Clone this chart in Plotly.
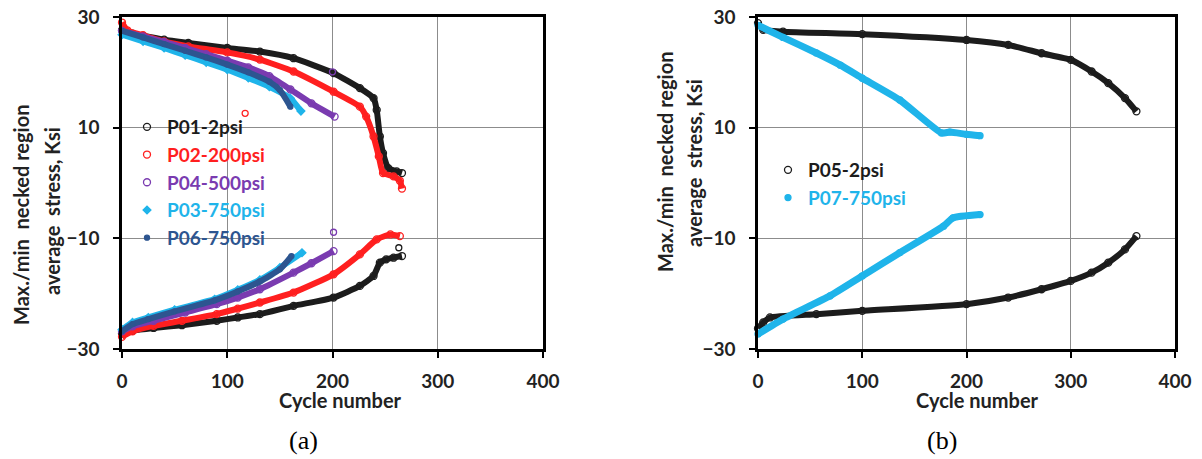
import plotly.graph_objects as go

# ---------------- data ----------------
# Panel (a)
p01_max_c = [0, 10, 20, 40, 63, 100, 131, 163, 201, 226, 239, 242, 245, 248, 253, 261, 266]
p01_max_v = [27.6, 27.0, 26.6, 25.9, 25.3, 24.4, 23.75, 22.55, 19.85, 17.15, 15.35, 13.2, 8.4, 5.4, 2.7, 2.1, 1.8]
p01_min_c = [0, 10, 30, 57, 90, 110, 131, 163, 201, 226, 239, 245, 251, 258, 266]
p01_min_v = [-27.2, -26.7, -26.2, -25.7, -24.9, -24.3, -23.7, -22.2, -20.7, -18.6, -16.8, -14.4, -13.8, -13.5, -13.2]

p02_max_c = [0, 5, 20, 40, 63, 100, 131, 163, 201, 226, 232, 239, 244, 248, 258, 264, 266]
p02_max_v = [29.0, 27.6, 26.7, 25.6, 24.7, 23.6, 22.3, 20.15, 16.5, 13.8, 12.0, 8.4, 4.8, 1.8, 1.2, 0.4, -1.0]
p02_min_c = [0, 10, 30, 57, 90, 110, 131, 163, 201, 226, 242, 255, 264]
p02_min_v = [-27.8, -26.8, -25.8, -24.9, -23.7, -22.7, -21.6, -19.8, -16.5, -12.9, -10.2, -9.3, -9.6]

p04_max_c = [0, 20, 40, 60, 80, 100, 120, 140, 160, 180, 202]
p04_max_v = [27.5, 26.5, 25.5, 24.4, 23.3, 22.1, 20.9, 19.3, 16.9, 14.4, 12.0]
p04_min_c = [0, 10, 30, 60, 90, 110, 131, 163, 180, 201]
p04_min_v = [-26.8, -25.9, -24.9, -23.4, -21.9, -20.7, -19.2, -16.2, -14.5, -12.3]

p03_max_c = [0, 20, 40, 60, 80, 100, 120, 140, 160, 170]
p03_max_v = [26.8, 25.6, 24.4, 23.1, 21.8, 20.5, 19.0, 17.4, 15.3, 13.0]
p03_min_c = [0, 10, 25, 50, 88, 110, 131, 150, 171]
p03_min_v = [-26.5, -25.2, -24.3, -22.9, -21.0, -19.3, -17.5, -15.3, -12.6]

p06_max_c = [0, 20, 40, 60, 80, 100, 120, 140, 150, 160]
p06_max_v = [27.5, 26.3, 25.1, 23.9, 22.7, 21.4, 20.0, 18.3, 16.8, 13.8]
p06_min_c = [0, 10, 25, 50, 88, 110, 131, 150, 161]
p06_min_v = [-26.8, -25.5, -24.6, -23.2, -21.2, -19.6, -17.8, -15.6, -13.2]

# isolated points
p02_out_c = [117]
p02_out_v = [12.6]
p04_out_c = [200, 201]
p04_out_v = [20.1, -8.9]
p01_out_c = [263]
p01_out_v = [-11.7]

# Panel (b)
p05_max_c = [0, 5, 24, 100, 200, 240, 272, 300, 320, 336, 352, 363]
p05_max_v = [28.9, 27.7, 27.35, 26.9, 25.85, 24.95, 23.45, 22.25, 20.15, 18.05, 15.35, 12.95]
p05_min_c = [0, 5, 11.5, 56, 100, 200, 240, 272, 300, 320, 336, 352, 363]
p05_min_v = [-26.3, -25.2, -24.3, -23.7, -23.1, -21.9, -20.7, -19.2, -17.7, -16.2, -14.4, -12.0, -9.6]

p07_max_c = [0, 24, 56, 79, 100, 136, 176, 184, 200, 213]
p07_max_v = [28.5, 26.3, 23.5, 21.3, 18.95, 15.0, 9.05, 9.2, 8.8, 8.55]
p07_min_c = [0, 24, 69, 100, 136, 178, 187, 213]
p07_min_v = [-27.3, -24.6, -20.4, -16.8, -12.6, -7.8, -6.3, -5.7]

x_ticks = [0, 100, 200, 300, 400]
y_ticks = [-30, -10, 10, 30]

# ---------------- styling ----------------
BLACK = "#1c1c1c"
RED = "#ff1f1f"
PURPLE = "#7a3bb0"
CYAN = "#1fb4ea"
NAVY = "#2d5590"
FONT = "Lato"

# the page body offsets the figure by 8 px; size the figure to fit the window
OFF = 8
W, H = 1202 - OFF, 459 - OFF
def px_x(p):
    return (p - OFF) / W
def px_y(p):
    return 1 - (p - OFF) / H

fig = go.Figure()

def add_series(cmax, vmax, cmin, vmin, name, color, symbol, msize, lw, xa, ya, legend, mfill=None):
    # thick bands (the dense point clouds of the original)
    for c, v in [(cmax, vmax), (cmin, vmin)]:
        fig.add_trace(go.Scatter(
            x=c, y=v, mode="lines", xaxis=xa, yaxis=ya, showlegend=False,
            line=dict(color=color, width=lw, shape="spline", smoothing=0.5),
            cliponaxis=False, hoverinfo="skip",
        ))
    # markers of the measured points (also carries the legend entry)
    fig.add_trace(go.Scatter(
        x=list(cmax) + [None] + list(cmin), y=list(vmax) + [None] + list(vmin),
        mode="markers", xaxis=xa, yaxis=ya,
        name='<span style="color:%s">%s</span>' % (color, name),
        legend=legend, showlegend=True,
        marker=dict(symbol=symbol, size=msize, color=mfill or color,
                    line=dict(color=color, width=1.3)),
        cliponaxis=False,
    ))

add_series(p01_max_c, p01_max_v, p01_min_c, p01_min_v, "P01-2psi", BLACK, "circle-open", 7, 6, "x", "y", "legend")
add_series(p02_max_c, p02_max_v, p02_min_c, p02_min_v, "P02-200psi", RED, "circle-open", 7, 6, "x", "y", "legend")
add_series(p04_max_c, p04_max_v, p04_min_c, p04_min_v, "P04-500psi", PURPLE, "circle-open", 7, 6, "x", "y", "legend")
add_series(p03_max_c, p03_max_v, p03_min_c, p03_min_v, "P03-750psi", CYAN, "diamond", 6, 6, "x", "y", "legend")
add_series(p06_max_c, p06_max_v, p06_min_c, p06_min_v, "P06-750psi", NAVY, "circle", 5, 6, "x", "y", "legend")

for c, v, col in [(p02_out_c, p02_out_v, RED), (p04_out_c, p04_out_v, PURPLE), (p01_out_c, p01_out_v, BLACK)]:
    fig.add_trace(go.Scatter(x=c, y=v, mode="markers", xaxis="x", yaxis="y", showlegend=False,
                             marker=dict(symbol="circle-open", size=6, color=col, line=dict(width=1.3)),
                             cliponaxis=False))

add_series(p05_max_c, p05_max_v, p05_min_c, p05_min_v, "P05-2psi", BLACK, "circle-open", 7, 6, "x2", "y2", "legend2")
add_series(p07_max_c, p07_max_v, p07_min_c, p07_min_v, "P07-750psi", CYAN, "circle", 6, 7, "x2", "y2", "legend2")

axis_common = dict(
    showline=True, mirror=True, linecolor="black", linewidth=2.5,
    showgrid=True, gridcolor="#8c8c8c", gridwidth=1,
    ticks="outside", ticklen=6, tickwidth=2, tickcolor="black",
    tickfont=dict(family=FONT, size=19, color="#222", weight="bold"),
    zeroline=False, fixedrange=True, automargin=False, ticklabeloverflow="allow",
)
xdom_a = [px_x(122), px_x(543)]
xdom_b = [px_x(758), px_x(1175)]
ydom = [px_y(349), px_y(17)]

legend_font = dict(family=FONT, size=19, weight="bold")
fig.update_layout(
    width=W, height=H, margin=dict(l=0, r=0, t=0, b=0, pad=0, autoexpand=False),
    paper_bgcolor="white", plot_bgcolor="white",
    font=dict(family=FONT, color="#222"),
    xaxis=dict(domain=xdom_a, range=[0, 400], tickvals=x_ticks, anchor="y", ticklabelstandoff=7, **axis_common),
    yaxis=dict(domain=ydom, range=[-30, 30], tickvals=y_ticks, anchor="x", ticklabelstandoff=10, **axis_common),
    xaxis2=dict(domain=xdom_b, range=[0, 400], tickvals=x_ticks, anchor="y2", ticklabelstandoff=7, **axis_common),
    yaxis2=dict(domain=ydom, range=[-30, 30], tickvals=y_ticks, anchor="x2", ticklabelstandoff=10, **axis_common),
    legend=dict(x=px_x(127), y=px_y(108), xanchor="left", yanchor="top",
                bgcolor="rgba(0,0,0,0)", font=legend_font,
                itemsizing="trace", tracegroupgap=0),
    legend2=dict(x=px_x(768), y=px_y(151), xanchor="left", yanchor="top",
                 bgcolor="rgba(0,0,0,0)", font=legend_font,
                 itemsizing="trace", tracegroupgap=0),
    showlegend=True,
)

ann = []
title_font = dict(family=FONT, size=20, color="#222", weight="bold")
for ycen1, ycen2, x1, x2 in [(215, 211, 21, 52), (162, 163, 665, 694)]:
    ann.append(dict(text="Max./min\u00a0 necked region", x=px_x(x1), y=px_y(ycen1), xref="paper", yref="paper",
                    textangle=-90, showarrow=False, font=title_font, xanchor="center", yanchor="middle"))
    ann.append(dict(text="average\u00a0 stress, Ksi", x=px_x(x2), y=px_y(ycen2), xref="paper", yref="paper",
                    textangle=-90, showarrow=False, font=title_font, xanchor="center", yanchor="middle"))
for xc in [340, 977]:
    ann.append(dict(text="Cycle number", x=px_x(xc), y=px_y(400), xref="paper", yref="paper",
                    showarrow=False, font=dict(family=FONT, size=20, color="#222", weight="bold"),
                    xanchor="center", yanchor="middle"))
for txt, xc in [("(a)", 303), ("(b)", 942)]:
    ann.append(dict(text=txt, x=px_x(xc), y=px_y(440), xref="paper", yref="paper",
                    showarrow=False, font=dict(family="Liberation Serif", size=26, color="black"),
                    xanchor="center", yanchor="middle"))
fig.update_layout(annotations=ann)

fig.write_html("out.html")
